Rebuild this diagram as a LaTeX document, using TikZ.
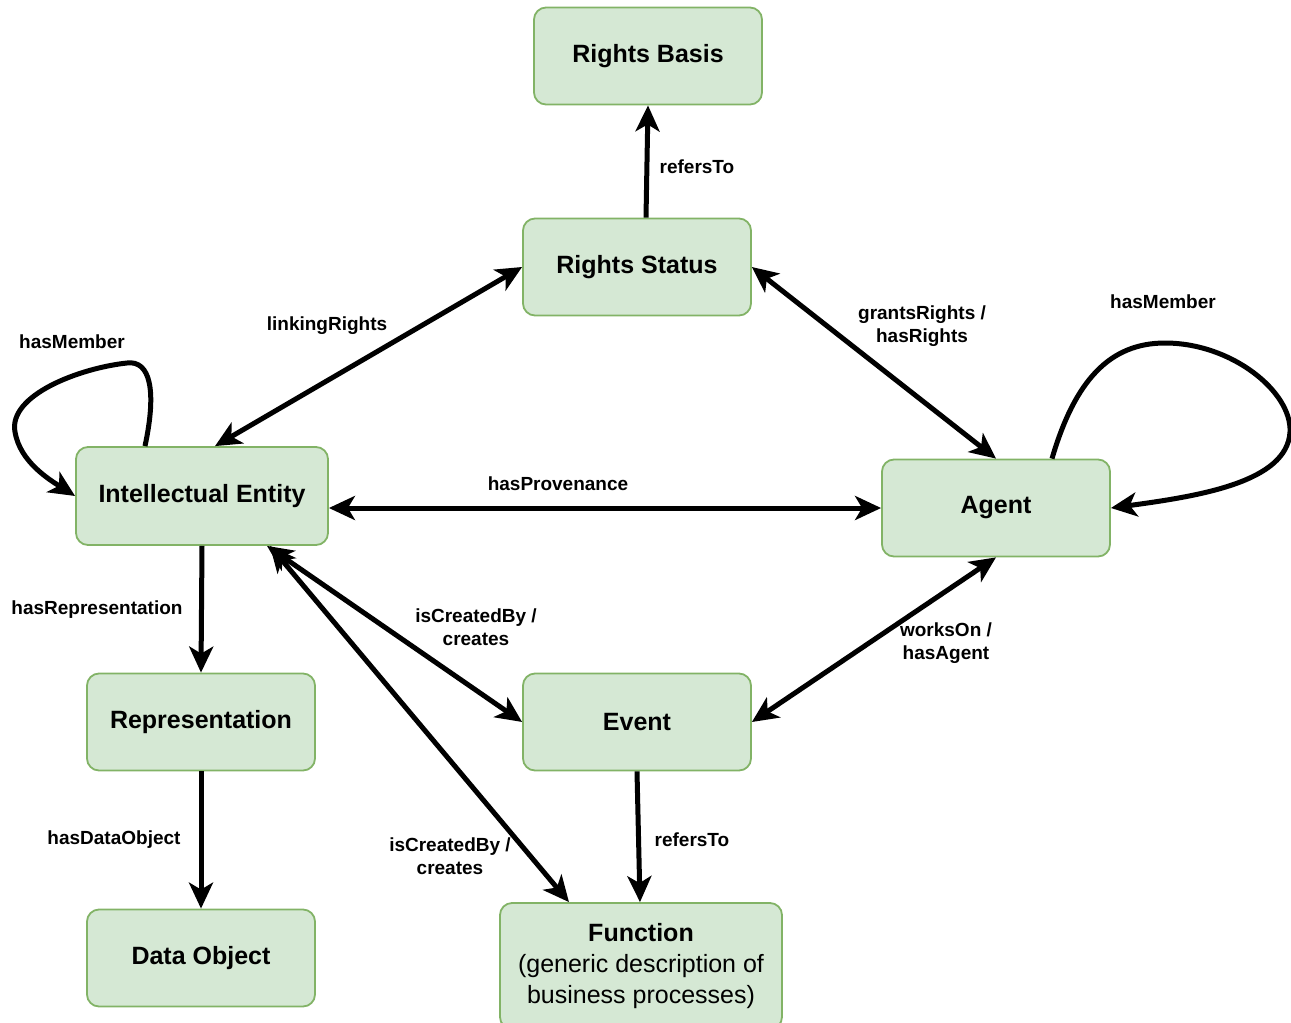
\documentclass[tikz,border=0pt]{standalone}
\usepackage{fontspec}
\setmainfont{Liberation Sans}
\usetikzlibrary{arrows.meta}

\definecolor{boxfill}{HTML}{D5E8D4}
\definecolor{boxline}{HTML}{82B366}

\tikzset{
  entity/.style={draw=boxline, fill=boxfill, line width=1.8pt, rounded corners=12pt,
    minimum width=228pt, minimum height=97pt, align=center, inner sep=0pt,
    font=\fontsize{25}{31}\selectfont\bfseries},
  tip/.style={Stealth[length=26pt, width=24pt, inset=7pt]},
  rel/.style={line width=5pt, -{Stealth[length=26pt, width=24pt, inset=7pt]}},
  birel/.style={line width=5pt, {Stealth[length=26pt, width=24pt, inset=7pt]}-{Stealth[length=26pt, width=24pt, inset=7pt]}},
  lbl/.style={align=center, inner sep=0pt, font=\fontsize{19}{23}\selectfont\bfseries},
}

\begin{document}
\begin{tikzpicture}[x=1pt, y=-1pt]
\useasboundingbox (0,0) rectangle (1291,1023);

% entities
\node[entity] (rb) at (648,56) {Rights Basis};
\node[entity] (rs) at (637,267) {Rights Status};
\node[entity, minimum width=252pt, minimum height=98pt] (ie) at (202,496) {Intellectual Entity};
\node[entity] (ag) at (996,508) {Agent};
\node[entity] (rep) at (201,722) {Representation};
\node[entity] (ev) at (637,722) {Event};
\node[entity] (do) at (201,958) {Data Object};
\node[entity, minimum width=282pt, minimum height=126pt] (fn) at (641,966)
  {Function\\{\mdseries (generic description of}\\{\mdseries business processes)}};

% relations
\draw[rel] ([xshift=9pt]rs.north) -- (rb.south);
\draw[birel] ([xshift=13pt]ie.north) -- (rs.west);
\draw[birel] (rs.east) -- (ag.north);
\draw[birel] ([yshift=-12pt]ie.east) -- (ag.west);
\draw[rel] (ie.south) -- (rep.north);
\draw[rel] (rep.south) -- (do.north);
\draw[birel] ([xshift=65pt]ie.south) -- (ev.west);
\draw[birel] ([xshift=68pt]ie.south) -- ([xshift=-72pt]fn.north);
\draw[birel] (ag.south) -- (ev.east);
\draw[rel] (ev.south) -- ([xshift=-1pt]fn.north);

% self loops
\draw[rel] ([xshift=-57pt]ie.north) .. controls (157,390) and (150,360) .. (127,363)
  .. controls (80,368) and (8,395) .. (15,432)
  .. controls (20,462) and (50,480) .. (ie.west);
\draw[rel] ([xshift=56pt]ag.north) .. controls (1075,380) and (1110,343) .. (1165,343)
  .. controls (1232,343) and (1292,392) .. (1290,432)
  .. controls (1287,482) and (1200,496) .. (ag.east);

% labels
\node[lbl] (l1) at (697,167) {refersTo};
\node[lbl] (l2) at (327,326) {linkingRights};
\node[lbl] (l3) at (922,326) {grantsRights /\\hasRights};
\node[lbl] (l4) at (72,342) {hasMember};
\node[lbl] (l5) at (1163,302) {hasMember};
\node[lbl] (l6) at (558,484) {hasProvenance};
\node[lbl] (l7) at (97,610) {hasRepresentation};
\node[lbl] (l8) at (476,627) {isCreatedBy /\\creates};
\node[lbl] (l9) at (946,643) {worksOn /\\hasAgent};
\node[lbl] (l10) at (114,840) {hasDataObject};
\node[lbl] (l11) at (450,856) {isCreatedBy /\\creates};
\node[lbl] (l12) at (692,840) {refersTo};
\end{tikzpicture}
\end{document}
